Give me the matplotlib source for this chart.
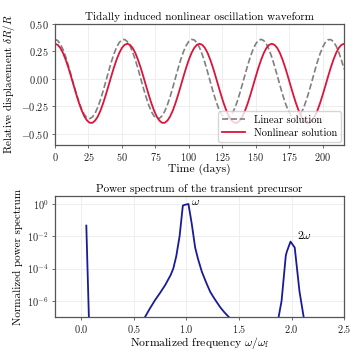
import numpy as np
import matplotlib
matplotlib.use('Agg')
import matplotlib.pyplot as plt

plt.rcParams['font.family'] = 'cmr10'
plt.rcParams['mathtext.fontset'] = 'cm'
plt.rcParams['axes.formatter.use_mathtext'] = True

# waveform, every 2 days (0..216)
t_days = list(range(0, 217, 2))
linear = [0.360, 0.349, 0.318, 0.267, 0.201, 0.122, 0.036, -0.052, -0.136,
          -0.213, -0.277, -0.325, -0.353, -0.360, -0.345, -0.310, -0.256,
          -0.188, -0.107, -0.021, 0.067, 0.151, 0.226, 0.287, 0.331, 0.355,
          0.359, 0.340, 0.302, 0.245, 0.174, 0.093, 0.006, -0.082, -0.164,
          -0.237, -0.296, -0.337, -0.358, -0.357, -0.335, -0.293, -0.234,
          -0.161, -0.078, 0.010, 0.097, 0.178, 0.249, 0.304, 0.342, 0.359,
          0.355, 0.329, 0.284, 0.222, 0.147, 0.063, -0.025, -0.112, -0.191,
          -0.260, -0.312, -0.346, -0.360, -0.352, -0.323, -0.274, -0.210,
          -0.132, -0.047, 0.041, 0.126, 0.204, 0.270, 0.320, 0.350, 0.360,
          0.348, 0.316, 0.264, 0.197, 0.118, 0.032, -0.056, -0.141, -0.217,
          -0.280, -0.326, -0.354, -0.359, -0.344, -0.308, -0.253, -0.184,
          -0.103, -0.017, 0.071, 0.155, 0.229, 0.289, 0.333, 0.356, 0.358,
          0.339, 0.300, 0.242, 0.170, 0.088]
nonlinear = [0.320, 0.310, 0.282, 0.236, 0.175, 0.103, 0.023, -0.061, -0.143,
             -0.220, -0.287, -0.341, -0.378, -0.398, -0.398, -0.378, -0.341,
             -0.287, -0.220, -0.143, -0.061, 0.023, 0.103, 0.175, 0.236, 0.282,
             0.310,
             0.320, 0.310, 0.282, 0.236, 0.175, 0.103, 0.023, -0.061, -0.143,
             -0.220, -0.287, -0.341, -0.378, -0.398, -0.398, -0.378, -0.341,
             -0.287, -0.220, -0.143, -0.061, 0.023, 0.103, 0.175, 0.236, 0.282,
             0.310,
             0.320, 0.310, 0.282, 0.236, 0.175, 0.103, 0.023, -0.061, -0.143,
             -0.220, -0.287, -0.341, -0.378, -0.398, -0.398, -0.378, -0.341,
             -0.287, -0.220, -0.143, -0.061, 0.023, 0.103, 0.175, 0.236, 0.282,
             0.310,
             0.320, 0.310, 0.282, 0.236, 0.175, 0.103, 0.023, -0.061, -0.143,
             -0.220, -0.287, -0.341, -0.378, -0.398, -0.398, -0.378, -0.341,
             -0.287, -0.220, -0.143, -0.061, 0.023, 0.103, 0.175, 0.236, 0.282,
             0.310, 0.320]

# power spectrum (log10 of normalized power), three pieces
spike_f = [0.048, 0.075]
spike_logp = [-1.34, -7.6]
main_f = [0.58, 0.65, 0.70, 0.75, 0.80, 0.85, 0.875, 0.903, 0.935, 0.966,
          0.981, 1.019, 1.05, 1.083, 1.11, 1.147, 1.19, 1.227, 1.27, 1.322,
          1.36, 1.41, 1.42]
main_logp = [-7.3, -6.5, -5.97, -5.5, -5.0, -4.4, -4.0, -3.25, -2.0, -0.1,
             -0.06, 0.0, -1.2, -2.7, -3.4, -4.2, -4.9, -5.45, -5.9, -6.4,
             -6.7, -7.05, -7.2]
harm_f = [1.86, 1.905, 1.945, 1.955, 1.99, 2.03, 2.075, 2.13]
harm_logp = [-7.6, -6.0, -3.2, -2.95, -2.33, -2.7, -5.4, -7.6]

fig, (ax1, ax2) = plt.subplots(2, 1, figsize=(3.57, 3.57), dpi=100)
fig.subplots_adjust(left=0.154, right=0.964, top=0.933, bottom=0.112, hspace=0.42)

for ax in (ax1, ax2):
    ax.grid(True, color='#ebebeb', lw=0.6)
    ax.set_axisbelow(True)
    for s in ax.spines.values():
        s.set_color('#555555')
        s.set_linewidth(0.9)
    ax.tick_params(labelsize=7.4, length=2.5, width=0.6, color='#555555',
                   labelcolor='#222222', pad=2)

ax1.plot(t_days, linear, '--', color='gray', lw=1.2, label='Linear solution')
ax1.plot(t_days, nonlinear, '-', color='#dc143c', lw=1.3, label='Nonlinear solution')
ax1.set_xlim(0, 216)
ax1.set_ylim(-0.6, 0.5)
ax1.set_yticks([-0.5, -0.25, 0, 0.25, 0.5])
ax1.yaxis.set_major_formatter(matplotlib.ticker.FormatStrFormatter('$%.2f$'))
ax1.set_xlabel('Time (days)', fontsize=8.4, labelpad=0)
ax1.set_ylabel(r'Relative displacement $\delta R/R$', fontsize=8, labelpad=3)
ax1.set_title('Tidally induced nonlinear oscillation waveform', fontsize=8, pad=3)
ax1.legend(loc='lower right', fontsize=7.5, framealpha=0.8, borderpad=0.4,
           handlelength=2.2, labelspacing=0.3, borderaxespad=0.3)

for f, lp in ((spike_f, spike_logp), (main_f, main_logp), (harm_f, harm_logp)):
    ax2.plot(f, 10 ** np.array(lp), color='#1a1a9a', lw=1.3)
ax2.set_yscale('log')
ax2.set_xlim(-0.25, 2.5)
ax2.set_ylim(1e-7, 10 ** 0.5)
ax2.set_yticks([1e0, 1e-2, 1e-4, 1e-6])
ax2.minorticks_off()
ax2.set_xticks([0, 0.5, 1, 1.5, 2, 2.5])
ax2.xaxis.set_major_formatter(matplotlib.ticker.FormatStrFormatter('$%.1f$'))
ax2.text(1.04, 10 ** 0.1, r'$\omega$', fontsize=8.5, va='center', ha='left')
ax2.text(2.05, 10 ** -1.95, r'$2\omega$', fontsize=8.5, va='center', ha='left')
ax2.set_xlabel(r'Normalized frequency $\omega/\omega_\mathrm{f}$', fontsize=8.4, labelpad=0)
ax2.set_ylabel('Normalized power spectrum', fontsize=8, labelpad=3)
ax2.set_title('Power spectrum of the transient precursor', fontsize=8, pad=3)

fig.savefig('out.png', dpi=100)
